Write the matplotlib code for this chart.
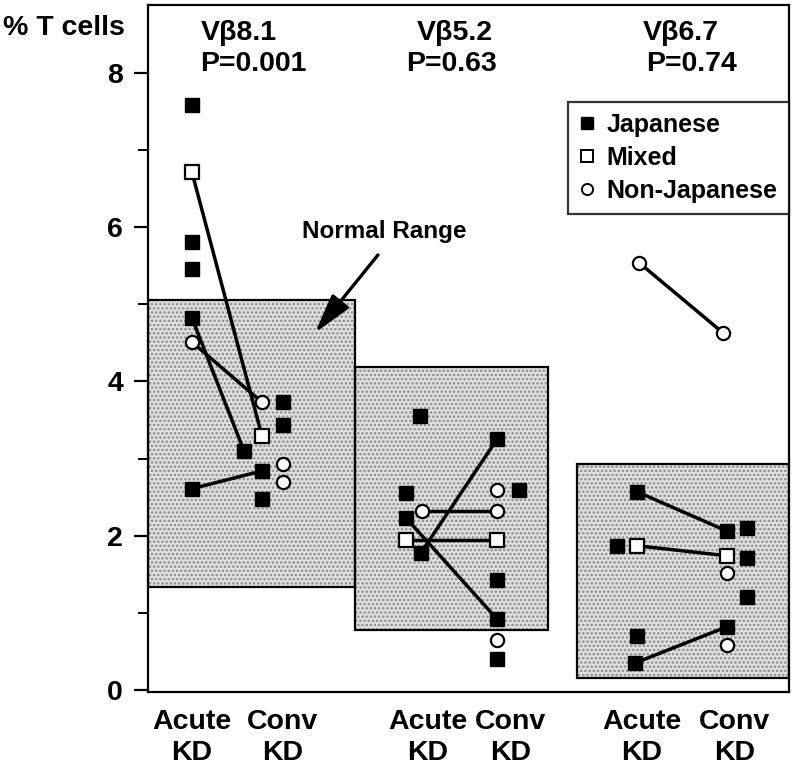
import matplotlib
matplotlib.use('Agg')
import matplotlib.pyplot as plt
from matplotlib.patches import Rectangle
from matplotlib.lines import Line2D

plt.rcParams['font.family'] = ['Liberation Sans', 'DejaVu Sans']
plt.rcParams['font.weight'] = 'bold'
plt.rcParams['hatch.linewidth'] = 1.2

# ---------------- data ----------------
groups = ['Vβ8.1', 'Vβ5.2', 'Vβ6.7']
p_values = ['P=0.001', 'P=0.63', 'P=0.74']
normal_low = [1.34, 0.78, 0.16]
normal_high = [5.06, 4.19, 2.93]
ytick_values = [0, 2, 4, 6, 8]
xtick_labels = ['Acute\nKD', 'Conv\nKD'] * 3

# paired patients (acute -> convalescent)
pair_group = [0, 0, 0, 0, 1, 1, 1, 1, 2, 2, 2, 2]
pair_type = ['J', 'M', 'N', 'J', 'J', 'J', 'M', 'N', 'N', 'J', 'M', 'J']
pair_acute = [4.82, 6.71, 4.51, 2.61, 2.23, 1.78, 1.95, 2.32, 5.54, 2.57, 1.87, 0.35]
pair_conv = [3.10, 3.29, 3.73, 2.84, 0.92, 3.25, 1.95, 2.32, 4.63, 2.06, 1.74, 0.82]

# unpaired samples
single_group = [0, 0, 0, 0, 0, 0, 0, 0,
                1, 1, 1, 1, 1, 1, 1,
                2, 2, 2, 2, 2, 2, 2]
single_phase = ['A', 'A', 'A', 'C', 'C', 'C', 'C', 'C',
                'A', 'A', 'C', 'C', 'C', 'C', 'C',
                'A', 'A', 'C', 'C', 'C', 'C', 'C']
single_type = ['J', 'J', 'J', 'J', 'J', 'J', 'N', 'N',
               'J', 'J', 'N', 'J', 'J', 'N', 'J',
               'J', 'J', 'J', 'J', 'N', 'J', 'N']
single_value = [7.59, 5.81, 5.46, 3.73, 3.44, 2.48, 2.93, 2.70,
                3.55, 2.55, 2.59, 2.59, 1.43, 0.65, 0.40,
                1.87, 0.70, 2.10, 1.71, 1.52, 1.21, 0.58]

# ---------------- layout (positions in x-axis units) ----------------
acute_x = [192, 406, 637]
conv_x = [262, 497, 727]
pair_acute_dx = [0, 0, 0, 0, 0, 15, 0, 16, 2, 0, 0, -2]
pair_conv_dx = [-18, 0, 0, 0, 0, 0, 0, 0, -4, 0, 0, 0]
single_dx = [0, 0, 0, 21, 21, 0, 21, 21,
             14, 0, 0, 22, 0, 0, 0,
             -20, 0, 20, 20, 0, 20, 0]
box_x = [(148, 355), (355, 548), (577, 789)]
xtick_pos = [192, 283, 428, 511, 642, 735]
title_x = [239, 455, 681]
p_x = [253, 451, 692]

styles = {
    'J': dict(marker='s', ms=9.8, mfc='black', mec='black', mew=1.0),
    'M': dict(marker='s', ms=9.8, mfc='white', mec='black', mew=1.6),
    'N': dict(marker='o', ms=9.5, mfc='white', mec='black', mew=1.6),
}

fig = plt.figure(figsize=(7.96, 7.67), dpi=100)
ax = fig.add_axes([148 / 796, 1 - 692 / 767, (789 - 148) / 796, 687 / 767])
ax.set_xlim(148, 789)
ax.set_ylim(-0.026, 8.88)

# normal range boxes
for (x0, x1), lo, hi in zip(box_x, normal_low, normal_high):
    ax.add_patch(Rectangle((x0, lo), x1 - x0, hi - lo, facecolor='#e0e0e0',
                           edgecolor='#8a8a8a', hatch='....', lw=0, zorder=0.5))
    ax.add_patch(Rectangle((x0, lo), x1 - x0, hi - lo, facecolor='none',
                           edgecolor='black', lw=1.6, zorder=0.6))

# connecting lines
for g, t, a, c, da, dc in zip(pair_group, pair_type, pair_acute, pair_conv,
                              pair_acute_dx, pair_conv_dx):
    ax.plot([acute_x[g] + da, conv_x[g] + dc], [a, c], color='black', lw=2.5,
            zorder=2, solid_capstyle='butt')
for g, t, a, c, da, dc in zip(pair_group, pair_type, pair_acute, pair_conv,
                              pair_acute_dx, pair_conv_dx):
    ax.plot([acute_x[g] + da, conv_x[g] + dc], [a, c], ls='none', zorder=3,
            **styles[t])

# unpaired points
for g, ph, t, v, dx in zip(single_group, single_phase, single_type,
                           single_value, single_dx):
    base = acute_x[g] if ph == 'A' else conv_x[g]
    ax.plot([base + dx], [v], ls='none', zorder=3, **styles[t])

# titles
for name, p, tx, px in zip(groups, p_values, title_x, p_x):
    ax.text(tx, 8.52, name, ha='center', va='center', fontsize=20.5,
            fontweight='bold')
    ax.text(px, 8.11, p, ha='center', va='center', fontsize=20.5,
            fontweight='bold')

# normal range annotation
ax.text(384, 5.94, 'Normal Range', ha='center', va='center', fontsize=17.5,
        fontweight='bold')
ax.annotate('', xy=(315, 4.63), xytext=(378, 5.64),
            arrowprops=dict(arrowstyle='-|>,head_length=1.1,head_width=0.3',
                            color='black', lw=2.4, mutation_scale=22,
                            shrinkA=0, shrinkB=0))

# axes styling
for s in ax.spines.values():
    s.set_linewidth(1.6)
ax.set_yticks(ytick_values)
ax.set_yticks([1, 3, 5, 7], minor=True)
ax.tick_params(axis='y', which='major', length=10, width=1.6, pad=8,
               labelsize=20.5, direction='out')
ax.tick_params(axis='y', which='minor', length=7, width=1.4, direction='out')
for lab in ax.get_yticklabels():
    lab.set_fontweight('bold')
ax.set_xticks(xtick_pos)
ax.set_xticklabels(xtick_labels, fontsize=20.5, fontweight='bold',
                   linespacing=1.25)
ax.tick_params(axis='x', length=0, pad=12)

fig.text(125 / 796, 1 - 28 / 767, '% T cells', ha='right', va='center',
         fontsize=20.5, fontweight='bold')

# legend
handles = [Line2D([], [], ls='none', marker='s', ms=8, mfc='black', mec='black'),
           Line2D([], [], ls='none', marker='s', ms=8, mfc='white', mec='black', mew=1.4),
           Line2D([], [], ls='none', marker='o', ms=8, mfc='white', mec='black', mew=1.4)]
leg = ax.legend(handles, ['Japanese', 'Mixed', 'Non-Japanese'],
                loc='upper right', bbox_to_anchor=(1.0, 0.859),
                prop=dict(size=18, weight='bold'), frameon=True, fancybox=False,
                handlelength=0.6, handletextpad=0.5, borderpad=0.45,
                labelspacing=0.35, borderaxespad=0)
leg.get_frame().set_edgecolor('black')
leg.get_frame().set_linewidth(1.6)

fig.savefig('out.png', dpi=100)
